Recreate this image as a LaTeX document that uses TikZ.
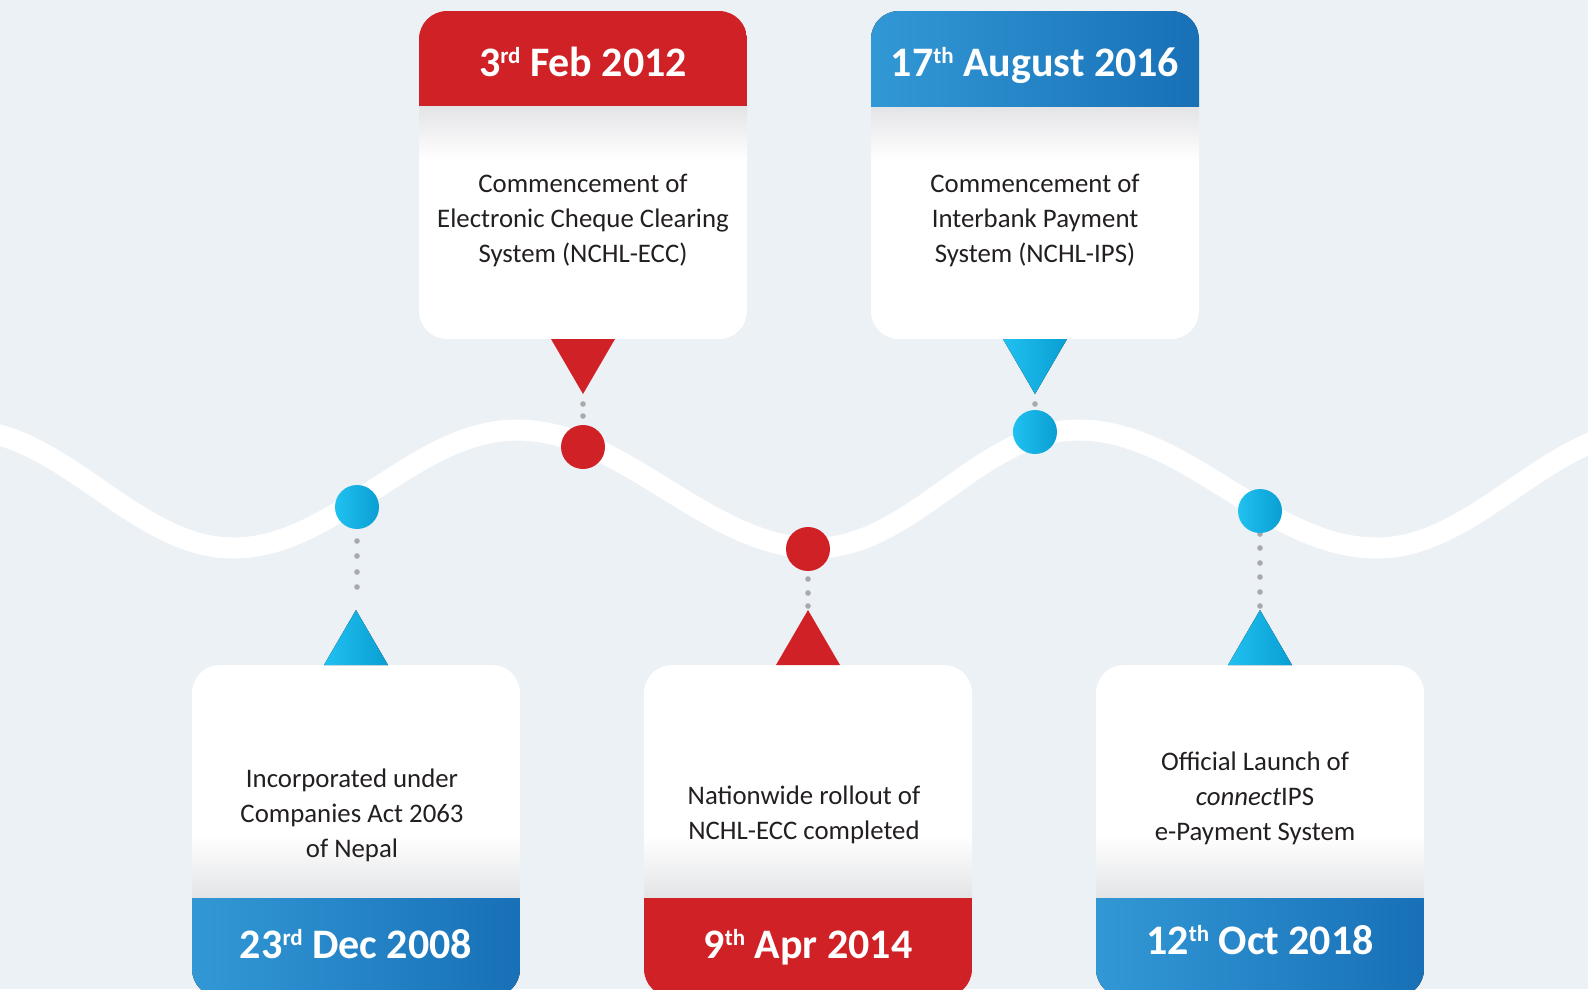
\documentclass[tikz,border=0pt]{standalone}
\usepackage{fontspec}
\setmainfont{Carlito}
\definecolor{bg}{RGB}{236,241,246}
\definecolor{nred}{RGB}{208,33,38}
\definecolor{hblueL}{RGB}{50,152,213}
\definecolor{hblueR}{RGB}{24,112,183}
\definecolor{cyanL}{RGB}{32,193,241}
\definecolor{cyanR}{RGB}{10,158,210}
\definecolor{dotgray}{RGB}{167,169,172}
\definecolor{fadegray}{RGB}{227,228,230}
\definecolor{txt}{RGB}{35,31,32}
\newcommand\supx[1]{\raisebox{13pt}{\fontsize{23}{23}\selectfont #1}}
\tikzset{
  redfill/.style={fill=nred},
  bluefill/.style={left color=hblueL, right color=hblueR},
  cyanfill/.style={left color=cyanL, right color=cyanR},
  graydot/.style={fill=dotgray},
  bodytext/.style={text=txt, align=center, font=\fontsize{26.8}{35}\selectfont, inner sep=0pt},
  datetext/.style={text=white, font=\bfseries\fontsize{42}{42}\selectfont, inner sep=0pt, anchor=base},
  marker/.style={circle, minimum size=44pt, inner sep=0pt},
  wave/.style={draw=white, line width=21pt},
}
\newcommand\topbox[2]{%
  \begin{scope}
    \clip[rounded corners=28pt] ({#1-164},11) rectangle ({#1+164},339);
    \fill[white] ({#1-164},11) rectangle ({#1+164},339);
    \fill[top color=fadegray, bottom color=white] ({#1-164},106) rectangle ({#1+164},160);
    \fill[#2] ({#1-164},11) rectangle ({#1+164},106);
  \end{scope}}
\newcommand\bottombox[2]{%
  \begin{scope}
    \clip[rounded corners=28pt] ({#1-164},665) rectangle ({#1+164},997);
    \fill[white] ({#1-164},665) rectangle ({#1+164},997);
    \fill[top color=white, bottom color=fadegray] ({#1-164},835) rectangle ({#1+164},898);
    \fill[#2] ({#1-164},898) rectangle ({#1+164},997);
  \end{scope}}
\begin{document}
\begin{tikzpicture}[x=1pt,y=-1pt]
\useasboundingbox (0,0) rectangle (1588,989);
\fill[bg] (0,0) rectangle (1588,989);
\begin{scope}
\clip (0,0) rectangle (1588,989);
% wave
\draw[wave] (-36,430) .. controls (62,430) and (135,548) .. (233,548)
  .. controls (336,548) and (414,430) .. (517,430)
  .. controls (624,430) and (708,548) .. (815,548)
  .. controls (912,548) and (981,430) .. (1078,430)
  .. controls (1187,430) and (1268,548) .. (1377,548)
  .. controls (1476,548) and (1550,430) .. (1649,430);
% dots
\foreach \y in {541,556,572,587} \fill[graydot] (357,\y) circle (2.8pt);
\foreach \y in {404,416} \fill[graydot] (583,\y) circle (2.8pt);
\foreach \y in {579,593,606} \fill[graydot] (808,\y) circle (2.8pt);
\foreach \y in {404} \fill[graydot] (1035,\y) circle (2.8pt);
\foreach \y in {534,548,563,577,592,606} \fill[graydot] (1260,\y) circle (2.8pt);
% markers
\node[marker, cyanfill] (m1) at (357,507) {};
\node[marker, redfill] (m2) at (583,447) {};
\node[marker, redfill] (m3) at (808,549) {};
\node[marker, cyanfill] (m4) at (1035,432) {};
\node[marker, cyanfill] (m5) at (1260,511) {};
% boxes
\topbox{583}{redfill}
\topbox{1035}{bluefill}
\bottombox{356}{bluefill}
\bottombox{808}{redfill}
\bottombox{1260}{bluefill}
% pointers
\fill[redfill] (551,339) -- (615,339) -- (583,394) -- cycle;
\fill[cyanfill] (1003,339) -- (1067,339) -- (1035,394) -- cycle;
\fill[cyanfill] (324,665) -- (388,665) -- (356,610) -- cycle;
\fill[redfill] (776,665) -- (840,665) -- (808,610) -- cycle;
\fill[cyanfill] (1228,665) -- (1292,665) -- (1260,610) -- cycle;
% texts
\node[datetext] (h1) at (583,76) {3\supx{rd} Feb 2012};
\node[bodytext] (d1) at (583,220) {Commencement of\\Electronic Cheque Clearing\\System (NCHL-ECC)};
\node[datetext] (h2) at (1035,76) {17\supx{th} August 2016};
\node[bodytext] (d2) at (1035,220) {Commencement of\\Interbank Payment\\System (NCHL-IPS)};
\node[bodytext] (d3) at (352,815) {Incorporated under\\Companies Act 2063\\of Nepal};
\node[datetext] (f3) at (356,958) {23\supx{rd} Dec 2008};
\node[bodytext] (d4) at (804,815) {Nationwide rollout of\\NCHL-ECC completed};
\node[datetext] (f4) at (808,958) {9\supx{th} Apr 2014};
\node[bodytext] (d5) at (1255,798) {Official Launch of\\\textit{connect}IPS\\e-Payment System};
\node[datetext] (f5) at (1260,954) {12\supx{th} Oct 2018};
\end{scope}
\end{tikzpicture}
\end{document}
